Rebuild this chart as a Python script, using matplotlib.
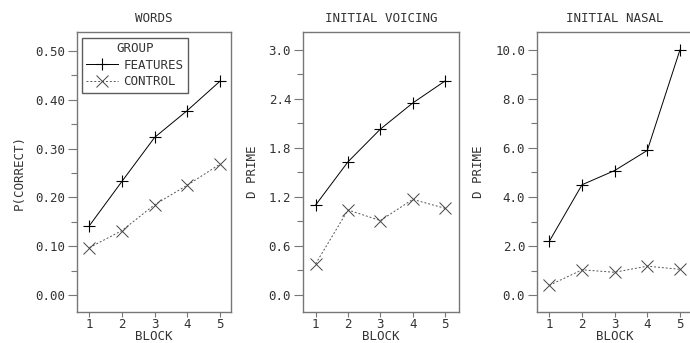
import matplotlib
matplotlib.use("Agg")
import matplotlib.pyplot as plt
from matplotlib.ticker import MultipleLocator, FormatStrFormatter

plt.rcParams['font.family'] = ['DejaVu Sans Mono']
plt.rcParams['font.size'] = 9

blocks = [1, 2, 3, 4, 5]

# WORDS - P(CORRECT)
words_features = [0.142, 0.233, 0.323, 0.378, 0.438]
words_control = [0.097, 0.132, 0.185, 0.225, 0.268]

# INITIAL VOICING - D PRIME
voicing_features = [1.10, 1.63, 2.03, 2.35, 2.62]
voicing_control = [0.38, 1.04, 0.91, 1.17, 1.06]

# INITIAL NASAL - D PRIME
nasal_features = [2.2, 4.5, 5.08, 5.9, 10.0]
nasal_control = [0.40, 1.03, 0.93, 1.18, 1.05]

titles = ["WORDS", "INITIAL VOICING", "INITIAL NASAL"]
ylabels = ["P(CORRECT)", "D PRIME", "D PRIME"]

grey = "#777777"
txt = "#333333"
fs = 9

fig = plt.figure(figsize=(6.9, 3.43), dpi=100)
W, H = 690, 343
boxes = [(77, 231), (303, 459), (537, 693)]
top, bottom = 32, 312

panels = [
    (words_features, words_control, (-0.035, 0.539), 0.10, 0.05, '%.2f', (0.62, 5.34)),
    (voicing_features, voicing_control, (-0.21, 3.22), 0.6, 0.3, '%.1f', (0.61, 5.43)),
    (nasal_features, nasal_control, (-0.69, 10.73), 2.0, 1.0, '%.1f', (0.62, 5.40)),
]

for i, (feat, ctrl, ylim, major, minor, fmt, xlim) in enumerate(panels):
    x0, x1 = boxes[i]
    ax = fig.add_axes([x0 / W, (H - bottom) / H, (x1 - x0) / W, (bottom - top) / H])
    ax.plot(blocks, feat, color='black', lw=0.7, marker='+', ms=9, mew=0.8,
            label='FEATURES')
    ax.plot(blocks, ctrl, color='#555555', lw=0.7, ls=(0, (2, 2)), marker='x',
            ms=8, mew=0.7, mec='#444444', label='CONTROL')
    ax.set_xlim(*xlim)
    ax.set_ylim(*ylim)
    ax.set_xticks(blocks)
    ax.yaxis.set_major_locator(MultipleLocator(major))
    ax.yaxis.set_minor_locator(MultipleLocator(minor))
    ax.yaxis.set_major_formatter(FormatStrFormatter(fmt))
    for s in ax.spines.values():
        s.set_color(grey)
        s.set_linewidth(1.0)
    ax.tick_params(axis='y', which='major', length=6.5, width=0.8, color=grey,
                   labelcolor=txt, labelsize=fs, pad=2)
    ax.tick_params(axis='y', which='minor', length=4.3, width=0.8, color=grey)
    ax.tick_params(axis='x', length=3.6, width=0.8, color=grey, labelcolor=txt,
                   labelsize=fs, pad=1)
    ax.set_title(titles[i], color=txt, fontsize=fs, pad=7)
    ax.set_xlabel("BLOCK", color=txt, fontsize=fs, labelpad=-1)
    ax.set_ylabel(ylabels[i], color=txt, fontsize=fs, labelpad=7)
    if i == 0:
        leg = ax.legend(title="GROUP", loc='upper left', bbox_to_anchor=(0.03, 0.98),
                        fontsize=fs, title_fontsize=fs, frameon=True, fancybox=False,
                        edgecolor='#333333', handlelength=2.6, handletextpad=0.4,
                        borderpad=0.35, labelspacing=0.3, borderaxespad=0)
        leg.get_frame().set_linewidth(1.0)
        for t in leg.get_texts():
            t.set_color(txt)
        leg.get_title().set_color(txt)

fig.savefig("out.png", dpi=100)
